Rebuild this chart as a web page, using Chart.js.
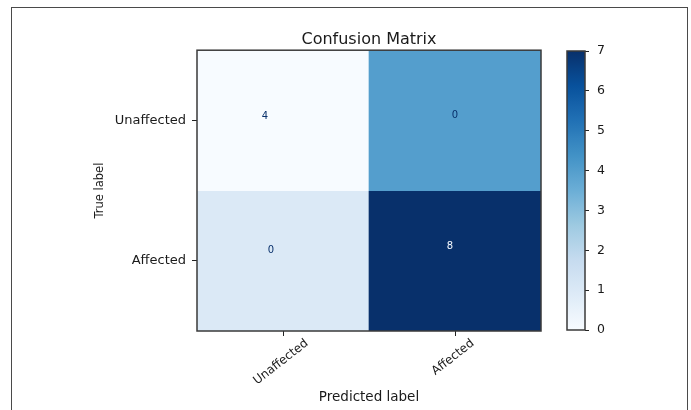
<!DOCTYPE html>
<html>
<head>
<meta charset="utf-8">
<script src="https://cdn.jsdelivr.net/npm/chart.js@4.4.1/dist/chart.umd.min.js"></script>
<style>
  html, body { margin: 0; padding: 0; background: #ffffff; }
  #wrap { position: relative; width: 691px; height: 410px; overflow: hidden; }
  #frame { position: absolute; left: 11px; top: 7px; width: 675px; height: 430px;
           border: 1.5px solid #4a4a4a; border-bottom: none; }
  #main { position: absolute; left: 0; top: 0; }
  #cbar { position: absolute; left: 540px; top: 0; }
</style>
</head>
<body>
<div id="wrap">
  <div id="frame"></div>
  <canvas id="main" width="691" height="410"></canvas>
  <canvas id="cbar" width="120" height="410"></canvas>
</div>
<script>
// Class names along each axis
const predictedLabels = ['Unaffected', 'Affected'];
const trueLabels = ['Unaffected', 'Affected'];

// Value each cell is shaded by (rows = true label, columns = predicted label)
const shading = [
  [0, 4],
  [1, 7]
];

// Count text printed in each cell
const annotations = [
  [4, 0],
  [0, 8]
];

// Colour bar range and ticks
const colorbarMin = 0;
const colorbarMax = 7;
const colorbarTicks = [0, 1, 2, 3, 4, 5, 6, 7];

// Sequential "Blues" colour map
const BLUES = [
  [247, 251, 255], [222, 235, 247], [198, 219, 239], [158, 202, 225],
  [107, 174, 214], [66, 146, 198], [33, 113, 181], [8, 81, 156], [8, 48, 107]
];
function blues(t) {
  t = Math.max(0, Math.min(1, t));
  const p = t * (BLUES.length - 1);
  const i = Math.min(BLUES.length - 2, Math.floor(p));
  const f = p - i;
  const a = BLUES[i], b = BLUES[i + 1];
  const c = a.map((v, k) => Math.round(v + (b[k] - v) * f));
  return `rgb(${c[0]},${c[1]},${c[2]})`;
}
const norm = v => (v - colorbarMin) / (colorbarMax - colorbarMin);

const FONT = 'DejaVu Sans';
const INK = '#1a1a1a';

// Dark outline round the plotting area
const outline = {
  id: 'outline',
  afterDatasetsDraw(chart) {
    const { ctx, chartArea: a } = chart;
    ctx.save();
    ctx.strokeStyle = '#3a3a3a';
    ctx.lineWidth = 1.5;
    ctx.strokeRect(a.left, a.top, a.right - a.left, a.bottom - a.top);
    ctx.restore();
  }
};

// Count text in each cell; light text on cells above the midpoint
const cellText = {
  id: 'cellText',
  afterDatasetsDraw(chart) {
    const { ctx, scales: { x, y } } = chart;
    const flat = annotations.flat();
    const thresh = (Math.max(...flat) + Math.min(...flat)) / 2;
    const nudge = [[[-18, -4], [0, -5]], [[-12, -10], [-5, -14]]];
    ctx.save();
    ctx.font = `10px "${FONT}"`;
    ctx.textAlign = 'center';
    ctx.textBaseline = 'middle';
    annotations.forEach((row, r) => {
      row.forEach((v, c) => {
        const px = x.getPixelForValue(c) + nudge[r][c][0];
        const py = y.getPixelForValue(r + 0.5) + nudge[r][c][1];
        ctx.fillStyle = v > thresh ? blues(0) : blues(1);
        ctx.fillText(String(v), px, py);
      });
    });
    ctx.restore();
  }
};

// Slanted category names under the x axis, each centred on its tick
const slantedTicks = {
  id: 'slantedTicks',
  afterDraw(chart) {
    const { ctx, scales: { x } } = chart;
    const angle = 38 * Math.PI / 180;
    const textH = 10;
    const top = x.top + 7;
    ctx.save();
    ctx.font = `12px "${FONT}"`;
    ctx.fillStyle = INK;
    ctx.textAlign = 'center';
    ctx.textBaseline = 'middle';
    predictedLabels.forEach((lab, i) => {
      const w = ctx.measureText(lab).width;
      const boxH = w * Math.sin(angle) + textH * Math.cos(angle);
      ctx.save();
      ctx.translate(x.getPixelForValue(i) - 2, top + boxH / 2);
      ctx.rotate(-angle);
      ctx.fillText(lab, 0, 0);
      ctx.restore();
    });
    ctx.restore();
  }
};

// One floating bar per cell, each spanning a full row band
const rowSets = trueLabels.map((_, r) => ({
  label: trueLabels[r],
  data: predictedLabels.map(() => [r, r + 1]),
  backgroundColor: predictedLabels.map((_, c) => blues(norm(shading[r][c]))),
  borderWidth: 0,
  barPercentage: 1,
  categoryPercentage: 1,
  grouped: false
}));

new Chart(document.getElementById('main'), {
  type: 'bar',
  data: { labels: predictedLabels, datasets: rowSets },
  options: {
    responsive: false,
    animation: false,
    devicePixelRatio: 1,
    layout: { padding: { left: 93, right: 150, top: 30, bottom: 4 } },
    plugins: {
      legend: { display: false },
      tooltip: { enabled: false },
      title: {
        display: true,
        text: 'Confusion Matrix',
        fullSize: false,
        color: INK,
        font: { family: FONT, size: 16, weight: 'normal' },
        padding: { top: 0, bottom: 1 }
      }
    },
    scales: {
      x: {
        type: 'category',
        offset: true,
        grid: { offset: false, drawOnChartArea: false, tickLength: 5, tickColor: '#222', tickWidth: 1 },
        border: { display: false },
        ticks: { display: false, autoSkip: false },
        title: {
          display: true, text: 'Predicted label', color: INK,
          font: { family: FONT, size: 13.5 }, padding: { top: 0, bottom: 0 }
        },
        afterFit(s) { s.height = 75; }
      },
      y: {
        type: 'linear',
        min: 0, max: trueLabels.length,
        reverse: true,
        afterBuildTicks(s) { s.ticks = trueLabels.map((_, i) => ({ value: i + 0.5 })); },
        grid: { drawOnChartArea: false, tickLength: 5, tickColor: '#222', tickWidth: 1 },
        border: { display: false },
        ticks: {
          autoSkip: false, padding: 6,
          color: INK, font: { family: FONT, size: 13 },
          callback: v => trueLabels[Math.floor(v)]
        },
        title: {
          display: true, text: 'True label', color: INK,
          font: { family: FONT, size: 11.5 }, padding: { top: 0, bottom: 0 }
        },
        afterFit(s) { s.width = 104; }
      }
    }
  },
  plugins: [outline, cellText, slantedTicks]
});

// Colour bar: one floating bar over the full range, filled with the colour map
new Chart(document.getElementById('cbar'), {
  type: 'bar',
  data: {
    labels: [''],
    datasets: [{
      data: [[colorbarMin, colorbarMax]],
      borderWidth: 0,
      barPercentage: 1,
      categoryPercentage: 1,
      backgroundColor(ctx) {
        const chart = ctx.chart;
        if (!chart.chartArea) return blues(0.5);
        const ys = chart.scales.y;
        const y0 = ys.getPixelForValue(colorbarMin);
        const y1 = ys.getPixelForValue(colorbarMax);
        const g = chart.ctx.createLinearGradient(0, y0, 0, y1);
        for (let i = 0; i <= 32; i++) g.addColorStop(i / 32, blues(i / 32));
        return g;
      }
    }]
  },
  options: {
    responsive: false,
    animation: false,
    devicePixelRatio: 1,
    layout: { padding: { left: 27, right: 0, top: 51, bottom: 80 } },
    plugins: { legend: { display: false }, tooltip: { enabled: false } },
    scales: {
      x: { display: false },
      y: {
        position: 'right',
        min: colorbarMin, max: colorbarMax,
        afterBuildTicks(s) { s.ticks = colorbarTicks.map(v => ({ value: v })); },
        grid: { drawOnChartArea: false, tickLength: 4, tickColor: '#222', tickWidth: 1 },
        border: { display: false },
        ticks: { autoSkip: false, padding: 8, color: INK, font: { family: FONT, size: 12.5 } },
        afterFit(s) { s.width = 75; }
      }
    }
  },
  plugins: [outline]
});
</script>
</body>
</html>
